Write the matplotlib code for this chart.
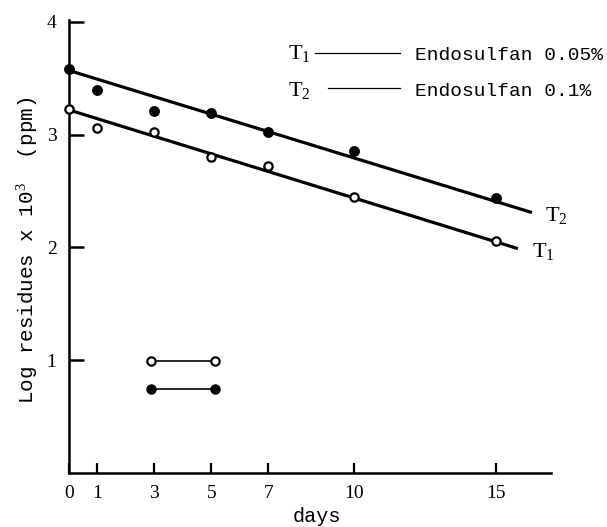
import matplotlib
matplotlib.use("Agg")
import matplotlib.pyplot as plt

plt.rcParams['mathtext.fontset'] = 'custom'
plt.rcParams['mathtext.rm'] = 'Liberation Serif'
plt.rcParams['mathtext.it'] = 'Liberation Serif'
plt.rcParams['mathtext.tt'] = 'Liberation Mono'

# ---- data ----
days = [0, 1, 3, 5, 7, 10, 15]
t1_obs = [3.23, 3.06, 3.02, 2.80, 2.72, 2.45, 2.06]   # open circles, Endosulfan 0.05%
t2_obs = [3.58, 3.40, 3.21, 3.19, 3.02, 2.86, 2.44]   # filled circles, Endosulfan 0.1%

fit_days_t1 = [0, 15.77]
fit_t1 = [3.22, 1.99]
fit_days_t2 = [0, 16.26]
fit_t2 = [3.57, 2.31]

key_days_open = [2.87, 5.13]
key_open = [0.99, 0.99]
key_days_filled = [2.87, 5.13]
key_filled = [0.745, 0.745]

xticks = [0, 1, 3, 5, 7, 10, 15]
yticks = [1, 2, 3, 4]

W, H = 607, 527
fig = plt.figure(figsize=(W / 100, H / 100), dpi=100)
x0, x1 = 69, 551
ybot, ytop = 473, 20
ax = fig.add_axes([x0 / W, (H - ybot) / H, (x1 - x0) / W, (ybot - ytop) / H])
ax.set_xlim(0, (x1 - x0) / 28.47)
ax.set_ylim(0, (ybot - ytop) / 112.75)

for s in ['top', 'right']:
    ax.spines[s].set_visible(False)
for s in ['left', 'bottom']:
    ax.spines[s].set_linewidth(1.8)

# fitted lines
ax.plot(fit_days_t2, fit_t2, color='black', lw=2.3, solid_capstyle='butt', zorder=2)
ax.plot(fit_days_t1, fit_t1, color='black', lw=2.3, solid_capstyle='butt', zorder=2)

# observations
ax.plot(days, t2_obs, 'o', ms=6.8, mfc='black', mec='black', zorder=3, clip_on=False)
ax.plot(days, t1_obs, 'o', ms=6.0, mfc='white', mec='black', mew=1.6, zorder=3, clip_on=False)

# key samples
ax.plot(key_days_open, key_open, '-o', color='black', lw=1.2, ms=6.0, mfc='white', mew=1.6)
ax.plot(key_days_filled, key_filled, '-o', color='black', lw=1.2, ms=6.5, mfc='black')

ax.set_xticks(xticks)
ax.set_yticks(yticks)
ax.tick_params(axis='x', direction='in', length=7, width=1.6, pad=9,
               labelsize=14)
ax.tick_params(axis='y', direction='in', length=11, width=1.8, pad=9,
               labelsize=14)
for lab in ax.get_xticklabels() + ax.get_yticklabels():
    lab.set_fontfamily('Liberation Serif')

mono = 'Liberation Mono'
fig.text(27 / W, 1 - 250 / H, r'Log residues x 10$^{3}$  (ppm)', rotation=90,
         ha='center', va='center', fontsize=15, family=mono)
fig.text(317 / W, 1 - 517 / H, 'days', ha='center', va='center',
         fontsize=14.5, family=mono)

# legend text
fig.text(288 / W, 1 - 54 / H, r'$\mathrm{T}_1$', ha='left', va='center', fontsize=16)
fig.text(288 / W, 1 - 91 / H, r'$\mathrm{T}_2$', ha='left', va='center', fontsize=16)
fig.add_artist(plt.Line2D([315 / W, 400 / W], [1 - 53 / H, 1 - 53 / H], color='black', lw=0.9))
fig.add_artist(plt.Line2D([328 / W, 400 / W], [1 - 88 / H, 1 - 88 / H], color='black', lw=0.9))
fig.text(415 / W, 1 - 55 / H, 'Endosulfan 0.05%', ha='left', va='center',
         fontsize=14, family=mono)
fig.text(415 / W, 1 - 92 / H, 'Endosulfan 0.1%', ha='left', va='center',
         fontsize=14, family=mono)

# line-end labels
fig.text(545 / W, 1 - 215 / H, r'$\mathrm{T}_2$', ha='left', va='center', fontsize=16)
fig.text(532 / W, 1 - 252 / H, r'$\mathrm{T}_1$', ha='left', va='center', fontsize=16)

fig.savefig('out.png', dpi=100)
